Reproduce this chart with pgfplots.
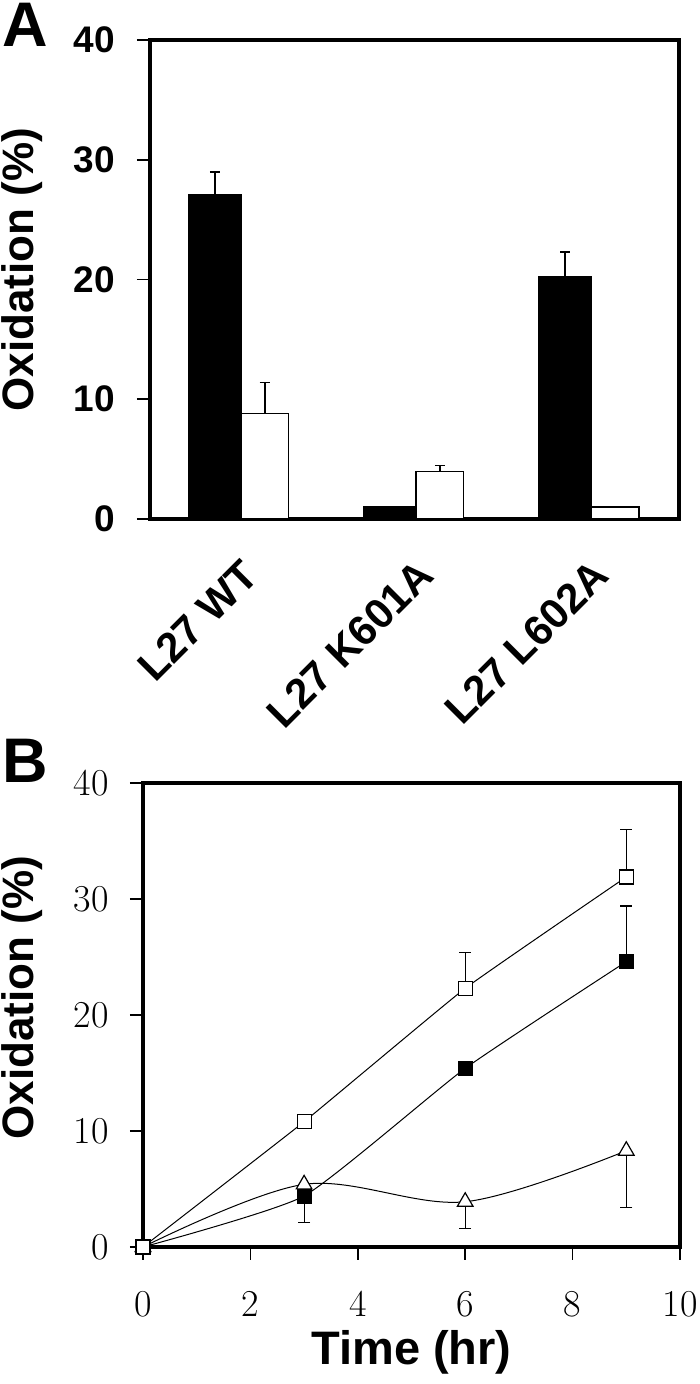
\documentclass[border=0pt]{standalone}
\usepackage{fontspec}
\setsansfont{Liberation Sans}
\usepackage{pgfplots}
\pgfplotsset{compat=1.18}
\newcommand{\lblfont}{\sffamily\bfseries\fontsize{22}{26}\selectfont}
\begin{document}
\begin{tikzpicture}
\useasboundingbox (0,0) rectangle (350pt,692pt);
\node[anchor=north west, inner sep=0pt, font=\sffamily\bfseries\fontsize{31.5}{34}\selectfont] at (1pt,690.5pt) {A};
\node[anchor=north west, inner sep=0pt, font=\sffamily\bfseries\fontsize{31.5}{34}\selectfont] at (1pt,322.5pt) {B};
\begin{axis}[
  at={(75pt,432.5pt)}, anchor=south west,
  scale only axis, width=264.5pt, height=239.5pt,
  xmin=-0.52, xmax=2.5, ymin=0, ymax=40,
  axis line style={line width=1.6pt},
  xtick={0,1,2}, xticklabels={L27 WT,L27 K601A,L27 L602A},
  ytick={0,10,20,30,40},
  tick align=outside, xtick pos=bottom, ytick pos=left,
  x tick style={draw=none},
  y tick style={line width=0.8pt,black},
  major tick length=6.5pt,
  /pgf/number format/assume math mode=true,
  yticklabel style={font=\sffamily\bfseries\fontsize{18.5}{20}\selectfont, inner sep=0pt, anchor=east},
  yticklabel shift=11pt,
  xticklabel style={font=\sffamily\bfseries\fontsize{21}{24}\selectfont, inner sep=0pt, xshift=10pt, yshift=-23pt, rotate=45, anchor=base east},
  ylabel={Oxidation (\%)},
  ylabel style={font=\lblfont, at={(axis description cs:-0.242,0.52)}, anchor=center},
  clip=false,
]
% black bars (left of each category centre)
\addplot[ybar, bar width=0.3, bar shift=0, fill=black, draw=black, line width=0.8pt,
  error bars/.cd, y dir=plus, y explicit, error bar style={line width=0.8pt},
  error mark options={rotate=90, mark size=2.5pt, line width=0.8pt}]
  coordinates {(-0.15,27.1) +- (0,1.9) (0.85,1.0) +- (0,0) (1.85,20.2) +- (0,2.1)};
% white bars (right of each category centre)
\addplot[ybar, bar width=0.27, bar shift=0, fill=white, draw=black, line width=0.8pt,
  error bars/.cd, y dir=plus, y explicit, error bar style={line width=0.8pt},
  error mark options={rotate=90, mark size=2.5pt, line width=0.8pt}]
  coordinates {(0.135,8.8) +- (0,2.6) (1.135,3.95) +- (0,0.5) (2.135,1.0) +- (0,0)};
\end{axis}
\begin{axis}[
  at={(71.5pt,68.5pt)}, anchor=south west,
  scale only axis, width=268.5pt, height=232pt,
  xmin=0, xmax=10, ymin=0, ymax=40,
  axis line style={line width=1.6pt},
  xtick={0,2,4,6,8,10}, ytick={0,10,20,30,40},
  tick align=outside, xtick pos=bottom, ytick pos=left,
  tick style={line width=0.8pt, black}, major tick length=6.5pt,
  /pgf/number format/assume math mode=true,
  ticklabel style={font=\rmfamily\fontsize{19}{22}\selectfont, inner sep=0pt},
  yticklabel shift=10.5pt, xticklabel shift=15.5pt,
  xlabel={Time (hr)}, ylabel={Oxidation (\%)},
  xlabel style={font=\sffamily\bfseries\fontsize{23.5}{27}\selectfont, at={(axis description cs:0.5,-0.226)}, anchor=center},
  ylabel style={font=\lblfont, at={(axis description cs:-0.225,0.537)}, anchor=center},
  clip=false,
]
\addplot[black, line width=0.5pt, smooth, tension=0.3, mark=square*, mark size=3.5pt,
  mark options={solid, fill=black, line width=0.6pt},
  error bars/.cd, y dir=both, y explicit, error bar style={line width=0.6pt},
  error mark options={rotate=90, mark size=3pt, line width=0.6pt}]
  coordinates {(0,0) += (0,0) -= (0,0) (3,4.4) += (0,0) -= (0,2.3) (6,15.4) += (0,0) -= (0,0) (9,24.6) += (0,4.8) -= (0,0)};
\addplot[black, line width=0.5pt, smooth, tension=0.55, mark=triangle*, mark size=4.5pt,
  mark options={solid, fill=white, line width=0.6pt},
  error bars/.cd, y dir=minus, y explicit, error bar style={line width=0.6pt},
  error mark options={rotate=90, mark size=3pt, line width=0.6pt}]
  coordinates {(0,0) +- (0,0) (3,5.4) +- (0,0) (6,3.9) +- (0,2.3) (9,8.3) +- (0,4.9)};
\addplot[black, line width=0.5pt, smooth, tension=0.2, mark=square*, mark size=3.5pt,
  mark options={solid, fill=white, line width=0.6pt},
  error bars/.cd, y dir=plus, y explicit, error bar style={line width=0.6pt},
  error mark options={rotate=90, mark size=3pt, line width=0.6pt}]
  coordinates {(0,0) +- (0,0) (3,10.8) +- (0,0) (6,22.3) +- (0,3.1) (9,31.9) +- (0,4.1)};
\end{axis}
\end{tikzpicture}
\end{document}
